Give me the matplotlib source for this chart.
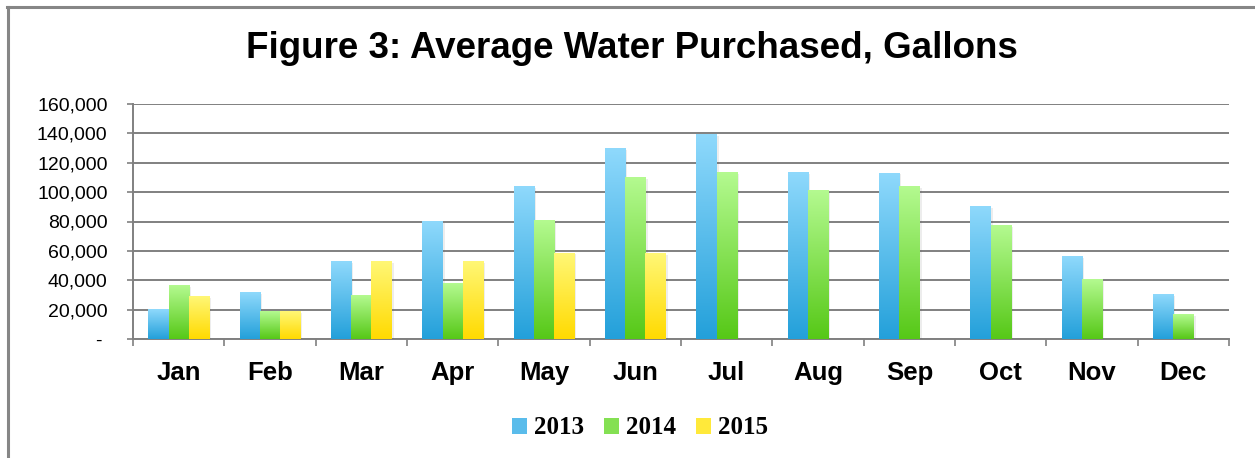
import matplotlib
matplotlib.use("Agg")
import matplotlib.pyplot as plt
import matplotlib.patheffects as pe
import numpy as np
from matplotlib.colors import LinearSegmentedColormap
from matplotlib.lines import Line2D
from matplotlib.patches import Patch
from matplotlib.ticker import FuncFormatter

# Данные: средний объём закупленной воды, галлоны
months = ["Jan", "Feb", "Mar", "Apr", "May", "Jun",
          "Jul", "Aug", "Sep", "Oct", "Nov", "Dec"]
years = ["2013", "2014", "2015"]
water_2013 = [20000, 31500, 52500, 80000, 104000, 129500,
              139000, 113500, 113000, 90000, 56000, 30000]
water_2014 = [36500, 18500, 29500, 38000, 80500, 110000,
              113500, 101000, 103500, 77000, 40500, 16500]
water_2015 = [29000, 18500, 52500, 52500, 58500, 58000,
              np.nan, np.nan, np.nan, np.nan, np.nan, np.nan]
y_ticks = [0, 20000, 40000, 60000, 80000, 100000, 120000, 140000, 160000]

# (низ, верх) градиента для каждого года
gradients = [("#23A0DA", "#8FD9FC"),
             ("#56C817", "#B4FA90"),
             ("#FFDA00", "#FFF776")]
legend_colors = ["#5ABCEB", "#84E053", "#FFE93A"]

GRID = "#808080"
W, H = 1255, 458

fig = plt.figure(figsize=(W / 100, H / 100), dpi=100)
ax = fig.add_axes([133 / W, 1 - 339 / H, (1229 - 133) / W, 235 / H])

x = np.arange(len(months))
width = 0.222
grad = np.linspace(0, 1, 256).reshape(-1, 1)

for i, vals in enumerate([water_2013, water_2014, water_2015]):
    cmap = LinearSegmentedColormap.from_list(f"g{i}", gradients[i])
    bars = ax.bar(x + (i - 1) * width, vals, width=width,
                  color=legend_colors[i], linewidth=0, zorder=3,
                  path_effects=[pe.SimplePatchShadow(offset=(1.5, -1), alpha=0.1,
                                                     shadow_rgbFace="#555555"),
                                pe.Normal()])
    for b in bars:
        h = b.get_height()
        if not np.isfinite(h) or h <= 0:
            continue
        x0 = b.get_x()
        ax.imshow(grad, extent=(x0, x0 + b.get_width(), 0, h), origin="lower",
                  cmap=cmap, aspect="auto", interpolation="bilinear", zorder=4)

ax.set_xlim(-0.5, 11.5)
ax.set_ylim(0, 160000)

# сетка и оси
ax.set_yticks(y_ticks)
ax.yaxis.set_major_formatter(FuncFormatter(lambda v, _: "- " if v == 0 else f"{v:,.0f}"))
ax.grid(axis="y", color=GRID, linewidth=1.4)
ax.set_axisbelow(True)
ax.tick_params(axis="y", length=4.3, width=1.2, color=GRID, pad=14,
               labelsize=14)
for lbl in ax.get_yticklabels():
    lbl.set_fontfamily("Liberation Sans")

ax.set_xticks(np.arange(-0.5, 12, 1))
ax.set_xticklabels([])
ax.set_xticks(x, minor=True)
ax.set_xticklabels(months, minor=True, fontsize=18.5, fontweight="bold",
                   fontfamily="Liberation Sans")
ax.tick_params(axis="x", which="major", length=5, width=1.2, color=GRID)
ax.tick_params(axis="x", which="minor", length=0, pad=16)

for side in ["top", "right"]:
    ax.spines[side].set_visible(False)
for side in ["left", "bottom"]:
    ax.spines[side].set_color(GRID)
    ax.spines[side].set_linewidth(1.4)

fig.text(632 / W, 1 - 49 / H, "Figure 3: Average Water Purchased, Gallons",
         ha="center", va="center", fontsize=26.5, fontweight="bold",
         fontfamily="Liberation Sans")

handles = [Patch(facecolor=c, edgecolor="none", label=y)
           for c, y in zip(legend_colors, years)]
fig.legend(handles=handles, loc="center", bbox_to_anchor=(640 / W, 1 - 428 / H),
           ncol=3, frameon=False, handlelength=0.6, handleheight=0.6,
           handletextpad=0.28, columnspacing=0.8,
           prop={"family": "Liberation Serif", "weight": "bold", "size": 18})

# рамка области диаграммы
fig.add_artist(Line2D([7 / W, 1], [1 - 7 / H] * 2, transform=fig.transFigure,
                      color="#868686", linewidth=2.2))
fig.add_artist(Line2D([8 / W] * 2, [0, 1 - 7 / H], transform=fig.transFigure,
                      color="#868686", linewidth=2.2))

fig.savefig("out.png", dpi=100)
